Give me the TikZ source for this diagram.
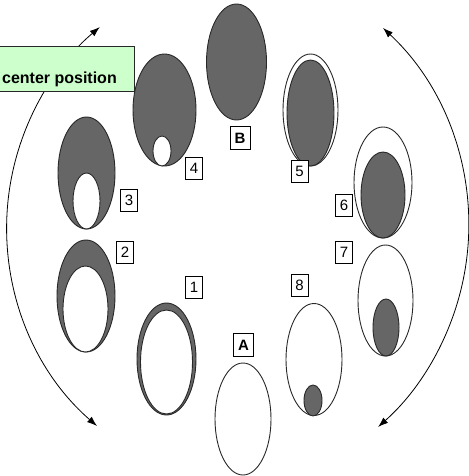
\documentclass[tikz,border=0pt]{standalone}
\usepackage{fontspec}
\setmainfont{Liberation Sans}
\usetikzlibrary{arrows.meta}
\definecolor{fillgray}{RGB}{102,102,102}
\definecolor{edgegray}{RGB}{40,40,40}
\definecolor{notegreen}{RGB}{204,255,204}
\tikzset{
  egray/.style={draw=edgegray, line width=0.9pt, fill=fillgray},
  ewhite/.style={draw=edgegray, line width=0.9pt, fill=white},
  lbl/.style={draw=black, line width=0.8pt, fill=white, inner sep=0pt,
    minimum width=17pt, minimum height=22pt, font=\fontsize{15}{18}\selectfont},
  lblb/.style={lbl, font=\fontsize{15}{18}\selectfont\bfseries, minimum width=20pt, minimum height=23pt},
  turn/.style={draw=black, line width=0.8pt, {Latex[length=10pt,width=7pt]}-{Latex[length=10pt,width=7pt]}},
}
\begin{document}
\begin{tikzpicture}[x=1pt,y=-1pt]
\useasboundingbox (0,0) rectangle (468,476);
% rotation arrows
\coordinate (lbot) at (97,426);
\coordinate (rtop) at (383,28);
\draw[turn] (lbot) arc[start angle=131, end angle=229.8, radius=262.7];
\draw[turn] (rtop) arc[start angle=-47, end angle=48.4, radius=269.7];
% note box
\node[draw=edgegray, line width=0.8pt, fill=notegreen, minimum width=136pt, minimum height=45pt, anchor=north west, inner sep=0pt] (note) at (-2,46) {};
\node[anchor=base east, inner sep=0pt, font=\fontsize{16}{19}\selectfont\bfseries] (notetxt) at (117,84) {center position};
% B
\draw[egray] (236.5,62) ellipse[x radius=30, y radius=58];
% 4
\draw[egray] (164.5,110) ellipse[x radius=31.5, y radius=56];
\draw[ewhite] (162,151) ellipse[x radius=9, y radius=15];
% 3
\draw[egray] (86.5,173) ellipse[x radius=28.5, y radius=56];
\draw[ewhite] (86.5,201) ellipse[x radius=13.5, y radius=28];
% 2
\draw[egray] (86,296) ellipse[x radius=29, y radius=56];
\draw[ewhite] (85.5,309) ellipse[x radius=22.5, y radius=43];
% 1
\draw[egray] (166.5,359) ellipse[x radius=29.5, y radius=56];
\draw[ewhite] (166.5,362) ellipse[x radius=26, y radius=52];
% A
\draw[ewhite] (243,419) ellipse[x radius=28, y radius=56];
% 8
\draw[ewhite] (314,359.5) ellipse[x radius=28, y radius=56];
\draw[egray] (313,400.5) ellipse[x radius=9, y radius=15.5];
% 7
\draw[ewhite] (385.5,300.5) ellipse[x radius=27.5, y radius=55.5];
\draw[egray] (386,327.5) ellipse[x radius=13, y radius=28.5];
% 6
\draw[ewhite] (383,182.5) ellipse[x radius=29, y radius=55.5];
\draw[egray] (383,195) ellipse[x radius=22, y radius=43];
% 5
\draw[ewhite] (310.5,110) ellipse[x radius=27.5, y radius=56];
\draw[egray] (310.5,113) ellipse[x radius=23.5, y radius=53];
% labels
\node[lblb] (labB) at (240,138) {B};
\node[lblb] (labA) at (243.5,345) {A};
\node[lbl] (lab1) at (194,287) {1};
\node[lbl] (lab2) at (125,252) {2};
\node[lbl] (lab3) at (129,200) {3};
\node[lbl] (lab4) at (194,168) {4};
\node[lbl] (lab5) at (299.5,171.5) {5};
\node[lbl] (lab6) at (344,205.5) {6};
\node[lbl] (lab7) at (344,252) {7};
\node[lbl] (lab8) at (299.5,285.5) {8};
\end{tikzpicture}
\end{document}
